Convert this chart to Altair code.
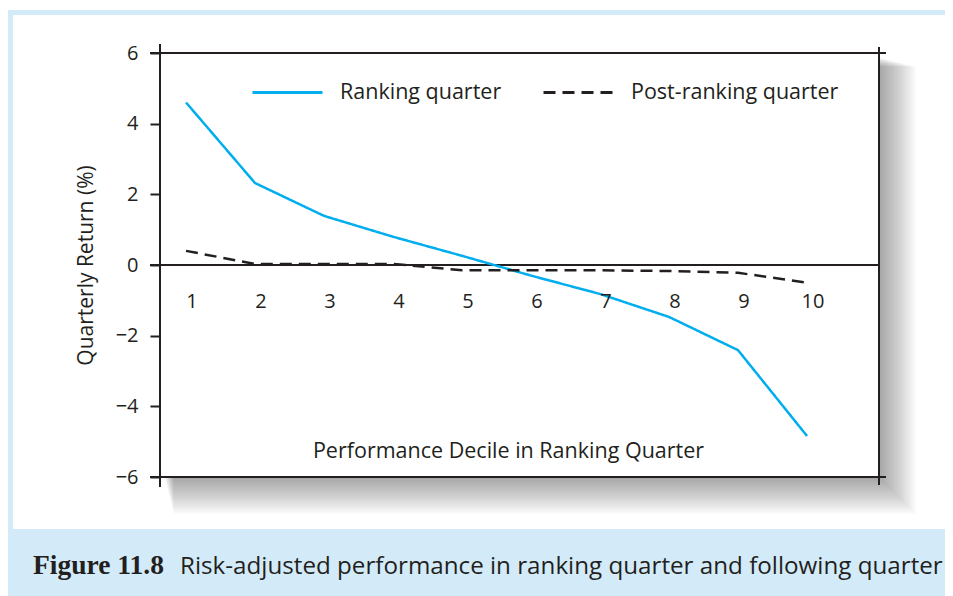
import altair as alt
import pandas as pd

# ---------------- data ----------------
deciles = [1, 2, 3, 4, 5, 6, 7, 8, 9, 10]
ranking_quarter = [4.60, 2.32, 1.39, 0.80, 0.26, -0.30, -0.82, -1.47, -2.41, -4.84]
post_ranking_quarter = [0.40, 0.03, 0.03, 0.03, -0.15, -0.15, -0.15, -0.17, -0.22, -0.50]
series_names = ["Ranking quarter", "Post-ranking quarter"]
y_ticks = [-6, -4, -2, 0, 2, 4, 6]
tick_labels = [str(d) for d in deciles]
x_title = "Performance Decile in Ranking Quarter"
y_title = "Quarterly Return (%)"
fig_label = "Figure 11.8"
caption = "Risk-adjusted performance in ranking quarter and following quarter"

# ---------------- style ----------------
BLUE = "#00aeef"
INK = "#231f20"
BAND = "#d3ebf9"
FONT = "Open Sans"
W, H = 719, 424

long_rows = []
for d, r, p in zip(deciles, ranking_quarter, post_ranking_quarter):
    long_rows.append({"decile": d, "value": r, "series": series_names[0]})
    long_rows.append({"decile": d, "value": p, "series": series_names[1]})
df = pd.DataFrame(long_rows)
ticks_df = pd.DataFrame({"decile": deciles, "label": tick_labels})
one = pd.DataFrame({"k": [0]})

xs = alt.Scale(domain=[0.623, 11.043], nice=False, zero=False)
ys = alt.Scale(domain=[-6, 6], nice=False, zero=False)

x_axis = alt.Axis(domain=False, ticks=False, labels=False, grid=False,
                  title=x_title, titleX=348, titleY=-26, titleBaseline="middle",
                  titleAlign="center", titleFontSize=21.5, titleFontWeight="normal",
                  titleColor=INK, titleFont=FONT, zindex=1)
y_axis = alt.Axis(domain=False, grid=False, values=y_ticks, tickSize=10, tickWidth=2,
                  tickColor=INK, labelFontSize=20, labelColor=INK, labelFont=FONT,
                  labelPadding=12, title=y_title, titleX=-74, titleY=212,
                  titleAngle=270, titleBaseline="middle", titleAlign="center",
                  titleFontSize=21, titleFontWeight="normal", titleColor=INK,
                  titleFont=FONT, zindex=1)


def box(x, x2, y, y2, color, opacity=1.0):
    return alt.Chart(one).mark_rect(color=color, opacity=opacity).encode(
        x=alt.value(x), x2=alt.value(x2), y=alt.value(y), y2=alt.value(y2))


def rule(x, x2, y, y2):
    return alt.Chart(one).mark_rule(color=INK, strokeWidth=2).encode(
        x=alt.value(x), x2=alt.value(x2), y=alt.value(y), y2=alt.value(y2))


layers = []
layers.append(box(-147, 800, -38, 476, "white"))
layers.append(box(-160, 800, -45, -43, "white"))
for k in range(1, 17):
    layers.append(box(4 + k * 0.6, W + 2.3 * k, 4 + k * 0.6, H + 2.3 * k, "black", 0.022))
layers.append(box(0, W, 0, H, "white"))

zero = alt.Chart(one).mark_rule(color=INK, strokeWidth=2).encode(
    y=alt.Y(datum=0, type="quantitative", scale=ys, axis=y_axis),
    x=alt.value(-10), x2=alt.value(W))
layers.append(zero)

lines = alt.Chart(df).mark_line(strokeWidth=2.5).encode(
    x=alt.X("decile:Q", scale=xs, axis=x_axis),
    y=alt.Y("value:Q", scale=ys, axis=y_axis),
    color=alt.Color("series:N", scale=alt.Scale(domain=series_names, range=[BLUE, INK]),
                    legend=alt.Legend(title=None)),
    strokeDash=alt.StrokeDash("series:N",
                              scale=alt.Scale(domain=series_names, range=[[1, 0], [12, 7]]),
                              legend=alt.Legend(title=None)),
)
layers.append(lines)

layers.append(rule(-10, W + 7, 0, 0))
layers.append(rule(0, 0, -9, H + 10))
layers.append(rule(W, W, -6, H + 8))
layers.append(rule(-10, W + 7, H, H))

xlabels = alt.Chart(ticks_df).mark_text(fontSize=20, font=FONT, color=INK, dx=6,
                                         baseline="middle", align="center").encode(
    x=alt.X("decile:Q", scale=xs, axis=x_axis),
    y=alt.value(249),
    text="label:N")
layers.append(xlabels)

cap1 = alt.Chart(one).mark_text(font="Liberation Serif", fontWeight="bold", fontSize=27.5,
                                color=INK, align="left", baseline="alphabetic").encode(
    x=alt.value(-127), y=alt.value(521), text=alt.value(fig_label))
cap2 = alt.Chart(one).mark_text(font=FONT, fontSize=24.2, color=INK, align="left",
                                baseline="alphabetic").encode(
    x=alt.value(20), y=alt.value(521), text=alt.value(caption))
layers += [cap1, cap2]

chart = alt.layer(*layers).properties(
    width=W, height=H,
    padding={"left": 152, "top": 45, "right": 66, "bottom": 119},
    autosize=alt.AutoSizeParams(type="none"),
    background=BAND,
).configure_view(stroke=None).configure_legend(
    orient="none", legendX=91, legendY=3, direction="horizontal",
    symbolType="stroke", symbolSize=4900, symbolStrokeWidth=3,
    labelFontSize=21.5, labelFont=FONT, labelColor=INK, labelOffset=16,
    labelLimit=0, columnPadding=35,
)

chart.save("out.html", embed_options={"renderer": "svg", "actions": False})
